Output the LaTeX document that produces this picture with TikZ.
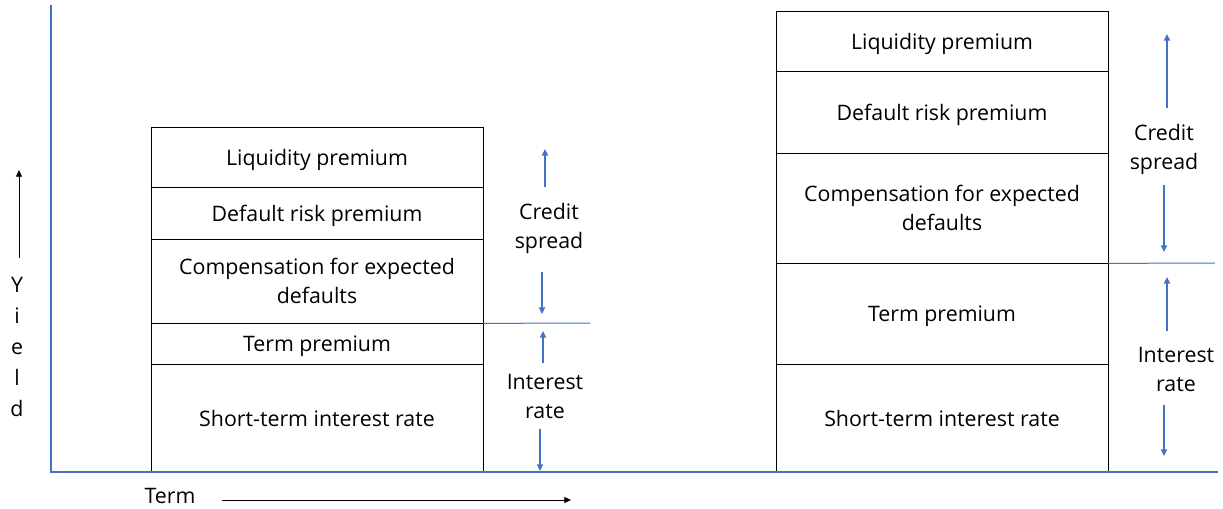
\documentclass[tikz,border=0pt]{standalone}
\usepackage{fontspec}
\setmainfont{Open Sans}
\usetikzlibrary{arrows.meta}
\definecolor{axisblue}{HTML}{4472C4}
\tikzset{
  x=0.75pt, y=-0.75pt,
  cell/.style={draw=black, line width=0.6pt, minimum width=249pt, inner sep=0pt, text depth=0pt, align=center, font=\fontsize{16}{21.75}\selectfont},
  lbl/.style={inner sep=0pt, align=center, font=\fontsize{16}{21.75}\selectfont},
  barrow/.style={draw=axisblue, line width=1.2pt, -{Triangle[length=5pt,width=4.5pt]}},
  karrow/.style={draw=black, line width=0.6pt, -{Triangle[length=5pt,width=4.5pt]}},
  axisline/.style={draw=axisblue, line width=1.3pt},
  sepline/.style={draw=axisblue, line width=0.75pt}
}
\begin{document}
\begin{tikzpicture}
\useasboundingbox (0,0) rectangle (1223,509);
% left stack
\node[cell, minimum height=45pt] (l1) at (317,157) {Liquidity premium};
\node[cell, minimum height=39pt] (l2) at (317,213) {Default risk premium};
\node[cell, minimum height=63pt] (l3) at (317,281) {Compensation for expected\\defaults};
\node[cell, minimum height=30.75pt] (l4) at (317,343.5) {Term premium};
\node[cell, minimum height=81pt] (l5) at (317,418) {Short-term interest rate};
\draw[line width=1.2pt] (l1.south west) -- (l1.south east);
% right stack
\node[cell, minimum height=45pt] (r1) at (942,41) {Liquidity premium};
\node[cell, minimum height=61.5pt] (r2) at (942,112) {Default risk premium};
\node[cell, minimum height=82.5pt] (r3) at (942,208) {Compensation for expected\\defaults};
\node[cell, minimum height=75.75pt] (r4) at (942,313.5) {Term premium};
\node[cell, minimum height=81pt] (r5) at (942,418) {Short-term interest rate};
% axes
\coordinate (otop) at (51,5);
\coordinate (orig) at (51,472);
\coordinate (xend) at (1218,472);
\draw[axisline] (otop) -- (orig) -- (xend);
% separator lines
\coordinate (lsep) at (590,323);
\coordinate (rsep) at (1215,263);
\draw[sepline] (l3.south east) -- (lsep);
\draw[sepline] (r3.south east) -- (rsep);
% left labels
\node[lbl] (lcs) at (549,228) {Credit\\spread};
\node[lbl] (lir) at (545,396) {Interest\\rate};
\coordinate (lcs1) at (545,187); \coordinate (lcs2) at (545,149);
\coordinate (lcs3) at (542,272); \coordinate (lcs4) at (542,314);
\coordinate (lir1) at (543,363); \coordinate (lir2) at (543,331);
\coordinate (lir3) at (540,429); \coordinate (lir4) at (540,471);
\draw[barrow] (lcs1) -- (lcs2);
\draw[barrow] (lcs3) -- (lcs4);
\draw[barrow] (lir1) -- (lir2);
\draw[barrow] (lir3) -- (lir4);
% right labels
\node[lbl] (rcs) at (1164,149) {Credit\\spread};
\node[lbl] (rir) at (1176,369) {Interest\\rate};
\coordinate (rcs1) at (1167,108); \coordinate (rcs2) at (1167,34);
\coordinate (rcs3) at (1164,185); \coordinate (rcs4) at (1164,252);
\coordinate (rir1) at (1167,331); \coordinate (rir2) at (1167,277);
\coordinate (rir3) at (1164,405); \coordinate (rir4) at (1164,456);
\draw[barrow] (rcs1) -- (rcs2);
\draw[barrow] (rcs3) -- (rcs4);
\draw[barrow] (rir1) -- (rir2);
\draw[barrow] (rir3) -- (rir4);
% y axis label
\coordinate (ya1) at (19,258); \coordinate (ya2) at (19,170);
\draw[karrow] (ya1) -- (ya2);
\node[lbl, font=\fontsize{16}{23.25}\selectfont] (yl) at (17,347) {Y\\i\\e\\l\\d};
% term label
\node[lbl] (term) at (170,496) {Term};
\coordinate (ta1) at (222,500); \coordinate (ta2) at (571,500);
\draw[karrow] (ta1) -- (ta2);
\end{tikzpicture}
\end{document}
